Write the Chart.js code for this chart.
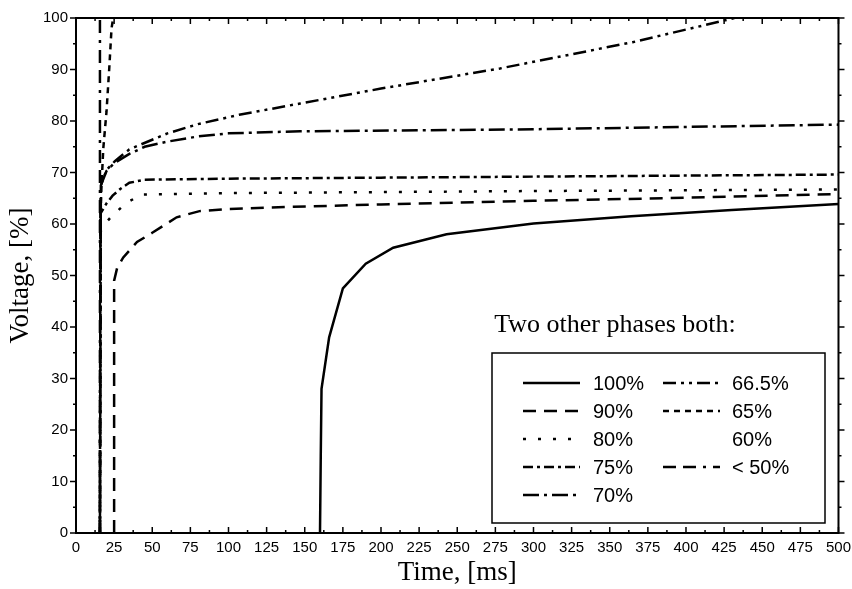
<!DOCTYPE html>
<html lang="en">
  <head>
    <meta charset="UTF-8" />
    <title>Voltage vs time</title>
    <script src="https://cdn.jsdelivr.net/npm/chart.js@4.4.0/dist/chart.umd.min.js"></script>
    <style>
      body {
        margin: 0;
        padding: 0;
        background: #fff;
      }
    </style>
  </head>

  <body>
    <canvas id="chart" width="852" height="589"></canvas>

    <script>
      // curves: time [ms] / voltage [%]
      var t100 = [160, 160.5, 161, 166, 175, 190, 208, 243, 300, 364, 430, 500];
      var v100 = [0, 15, 28, 38, 47.5, 52.3, 55.4, 58, 60.1, 61.5, 62.7, 63.9];

      var t90 = [25, 25, 27, 31, 40, 50, 66, 81, 100, 138, 200, 300, 400, 500];
      var v90 = [0, 49, 51.5, 53.5, 56.5, 58.3, 61.3, 62.5, 62.9, 63.3, 63.8, 64.5, 65.1, 65.8];

      var t80 = [15.7, 16, 19, 23.3, 33, 43, 100, 200, 300, 500];
      var v80 = [0, 58.5, 60, 61.5, 64.1, 65.7, 66, 66.2, 66.4, 66.7];

      var t75 = [15.7, 16, 20, 24, 29, 35, 45, 100, 200, 300, 500];
      var v75 = [0, 62, 64, 65.5, 66.8, 68, 68.6, 68.8, 69, 69.2, 69.6];

      var t70 = [15.7, 16.3, 20, 25, 35, 45, 60, 80, 100, 147, 300, 500];
      var v70 = [0, 67.5, 70.3, 71.8, 73.6, 75, 76, 77, 77.6, 78, 78.4, 79.3];

      var t665 = [15.7, 16.3, 20, 25.5, 35, 60, 80, 107, 147, 200, 278, 365, 432];
      var v665 = [0, 67.5, 70.5, 72.2, 74.5, 77.6, 79.4, 81.2, 83.4, 86.3, 90.2, 95.3, 100];

      var t65 = [15.7, 16, 16.5, 17.9, 20, 21.8, 23.3, 24.4];
      var v65 = [0, 60, 66, 74.7, 81.8, 90.2, 98, 100];

      var t50 = [15.7, 15.7];
      var v50 = [0, 100];

      var labels = ["100%", "90%", "80%", "75%", "70%", "66.5%", "65%", "60%", "< 50%"];
      var xTicks = { min: 0, max: 500, step: 25 };
      var yTicks = { min: 0, max: 100, step: 10 };

      // dash styles per curve, same order as labels (null = no line)
      var dashes = [
        [],
        [13, 8],
        [3, 12],
        [10, 4, 3, 4],
        [16, 5, 3, 5],
        [13, 5, 3, 5, 3, 5],
        [6, 5],
        null,
        [13, 7, 13, 7, 3, 7],
      ];

      function pts(xs, ys) {
        return xs.map(function (x, i) {
          return { x: x, y: ys[i] };
        });
      }

      var series = [
        pts(t100, v100),
        pts(t90, v90),
        pts(t80, v80),
        pts(t75, v75),
        pts(t70, v70),
        pts(t665, v665),
        pts(t65, v65),
        [],
        pts(t50, v50),
      ];

      var datasets = series.map(function (d, i) {
        return {
          label: labels[i],
          data: d,
          borderColor: "#000",
          borderWidth: 2.5,
          borderDash: dashes[i] || [],
          borderCapStyle: "butt",
          pointRadius: 0,
          fill: false,
        };
      });

      // frame, inward/outward ticks and the boxed legend
      var framePlugin = {
        id: "frame",
        afterDraw: function (chart) {
          var ctx = chart.ctx;
          var a = chart.chartArea;
          var xs = chart.scales.x;
          var ys = chart.scales.y;
          ctx.save();
          ctx.strokeStyle = "#000";
          ctx.lineWidth = 2;
          ctx.strokeRect(a.left, a.top, a.right - a.left, a.bottom - a.top);

          ctx.lineWidth = 1.5;
          ctx.beginPath();
          for (var t = xTicks.min; t <= xTicks.max; t += xTicks.step / 2) {
            var px = xs.getPixelForValue(t);
            var len = t % xTicks.step === 0 ? 6 : 3;
            ctx.moveTo(px, a.bottom);
            ctx.lineTo(px, a.bottom - len);
            ctx.moveTo(px, a.top);
            ctx.lineTo(px, a.top + len);
          }
          for (var v = yTicks.min; v <= yTicks.max; v += yTicks.step / 2) {
            var py = ys.getPixelForValue(v);
            var l = v % yTicks.step === 0 ? 6 : 3;
            ctx.moveTo(a.left, py);
            ctx.lineTo(a.left - l, py);
            ctx.moveTo(a.right, py);
            ctx.lineTo(a.right + l, py);
          }
          ctx.stroke();

          // legend
          var bx = 492, by = 353, bw = 333, bh = 170;
          ctx.fillStyle = "#fff";
          ctx.fillRect(bx, by, bw, bh);
          ctx.lineWidth = 1.5;
          ctx.strokeRect(bx, by, bw, bh);

          ctx.fillStyle = "#000";
          ctx.font = "26px 'Liberation Serif'";
          ctx.textAlign = "center";
          ctx.textBaseline = "middle";
          ctx.fillText("Two other phases both:", 615, 325);

          ctx.font = "20px 'Liberation Sans'";
          ctx.textAlign = "left";
          labels.forEach(function (lab, i) {
            var col = i < 5 ? 0 : 1;
            var row = col === 0 ? i : i - 5;
            var y = 383 + row * 28;
            var lx = col === 0 ? 523 : 663;
            var tx = col === 0 ? 593 : 732;
            if (dashes[i]) {
              ctx.save();
              ctx.lineWidth = 2.5;
              ctx.setLineDash(dashes[i]);
              ctx.beginPath();
              ctx.moveTo(lx, y);
              ctx.lineTo(lx + 57, y);
              ctx.stroke();
              ctx.restore();
            }
            ctx.fillText(lab, tx, y + 1);
          });
          ctx.restore();
        },
      };

      var ctx = document.getElementById("chart").getContext("2d");
      var myChart = new Chart(ctx, {
        type: "line",
        data: { datasets: datasets },
        options: {
          responsive: false,
          animation: false,
          layout: { padding: { left: 0, right: 12, top: 18, bottom: 0 } },
          plugins: {
            legend: { display: false },
            tooltip: { enabled: false },
          },
          scales: {
            x: {
              type: "linear",
              min: xTicks.min,
              max: xTicks.max,
              grid: { display: false, tickLength: 5 },
              border: { display: false },
              ticks: {
                stepSize: xTicks.step,
                color: "#000",
                padding: 1,
                maxRotation: 0,
                autoSkip: false,
                font: { family: "Liberation Sans", size: 15 },
              },
              title: {
                display: true,
                text: "Time, [ms]",
                color: "#000",
                padding: { top: 0, bottom: 0 },
                font: { family: "Liberation Serif", size: 27 },
              },
              afterFit: function (s) {
                s.height = 56;
              },
            },
            y: {
              min: yTicks.min,
              max: yTicks.max,
              grid: { display: false, tickLength: 5 },
              border: { display: false },
              ticks: {
                stepSize: yTicks.step,
                color: "#000",
                padding: 3,
                font: { family: "Liberation Sans", size: 15 },
              },
              title: {
                display: true,
                text: "Voltage, [%]",
                color: "#000",
                padding: { top: 5, bottom: 0 },
                font: { family: "Liberation Serif", size: 27 },
              },
              afterFit: function (s) {
                s.width = 76;
              },
            },
          },
        },
        plugins: [framePlugin],
      });
    </script>
  </body>
</html>
